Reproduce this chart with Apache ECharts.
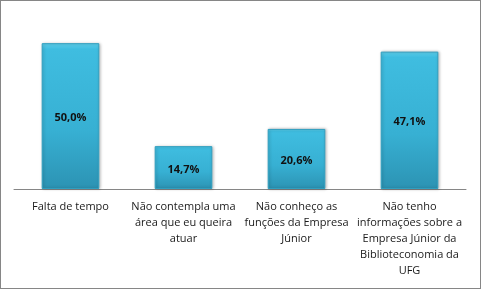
<!DOCTYPE html>
<html>
<head>
<meta charset="utf-8">
<script src="https://cdn.jsdelivr.net/npm/echarts@6/dist/echarts.min.js"></script>
<style>
  html, body { margin: 0; padding: 0; background: #fff; }
  #chart { width: 481px; height: 289px; box-sizing: border-box; border: 1px solid #868686; }
</style>
</head>
<body>
<div id="chart"></div>
<script>
// categorias (quebras de linha como no original)
const categories = [
  'Falta de tempo',
  'Não contempla uma\nárea que eu queira\natuar',
  'Não conheço as\nfunções da Empresa\nJúnior',
  'Não tenho\ninformações sobre a\nEmpresa Júnior da\nBiblioteconomia da\nUFG'
]
const percentages = [50.0, 14.7, 20.6, 47.1]

const chart = echarts.init(document.getElementById('chart'))

const option = {
  animation: false,
  grid: { left: 13, right: 14, top: 13, bottom: 99 },
  xAxis: {
    type: 'category',
    data: categories,
    axisLine: { lineStyle: { color: '#868686', width: 1 } },
    axisTick: { show: false },
    axisLabel: {
      interval: 0,
      margin: 10,
      color: '#1a1a1a',
      fontFamily: 'Open Sans',
      fontSize: 11,
      lineHeight: 16
    }
  },
  yAxis: {
    type: 'value',
    min: 0,
    max: 60,
    show: false,
    splitLine: { show: false }
  },
  series: [
    {
      type: 'bar',
      data: percentages,
      barWidth: '51%',
      itemStyle: {
        color: new echarts.graphic.LinearGradient(0, 0, 0, 1, [
          { offset: 0, color: '#5fd0ec' },
          { offset: 0.04, color: '#3fbde0' },
          { offset: 0.6, color: '#37b0d3' },
          { offset: 1, color: '#2c93b3' }
        ]),
        borderColor: '#2f9fc0',
        borderWidth: 1,
        shadowColor: 'rgba(0,0,0,0.25)',
        shadowBlur: 3,
        shadowOffsetX: 1,
        shadowOffsetY: 0
      },
      label: {
        show: true,
        position: 'inside',
        offset: [0, 2],
        formatter: (p) => p.value.toFixed(1).replace('.', ',') + '%',
        color: '#111',
        fontFamily: 'Open Sans',
        fontWeight: 'bold',
        fontSize: 11
      }
    }
  ]
}

chart.setOption(option)
</script>
</body>
</html>
